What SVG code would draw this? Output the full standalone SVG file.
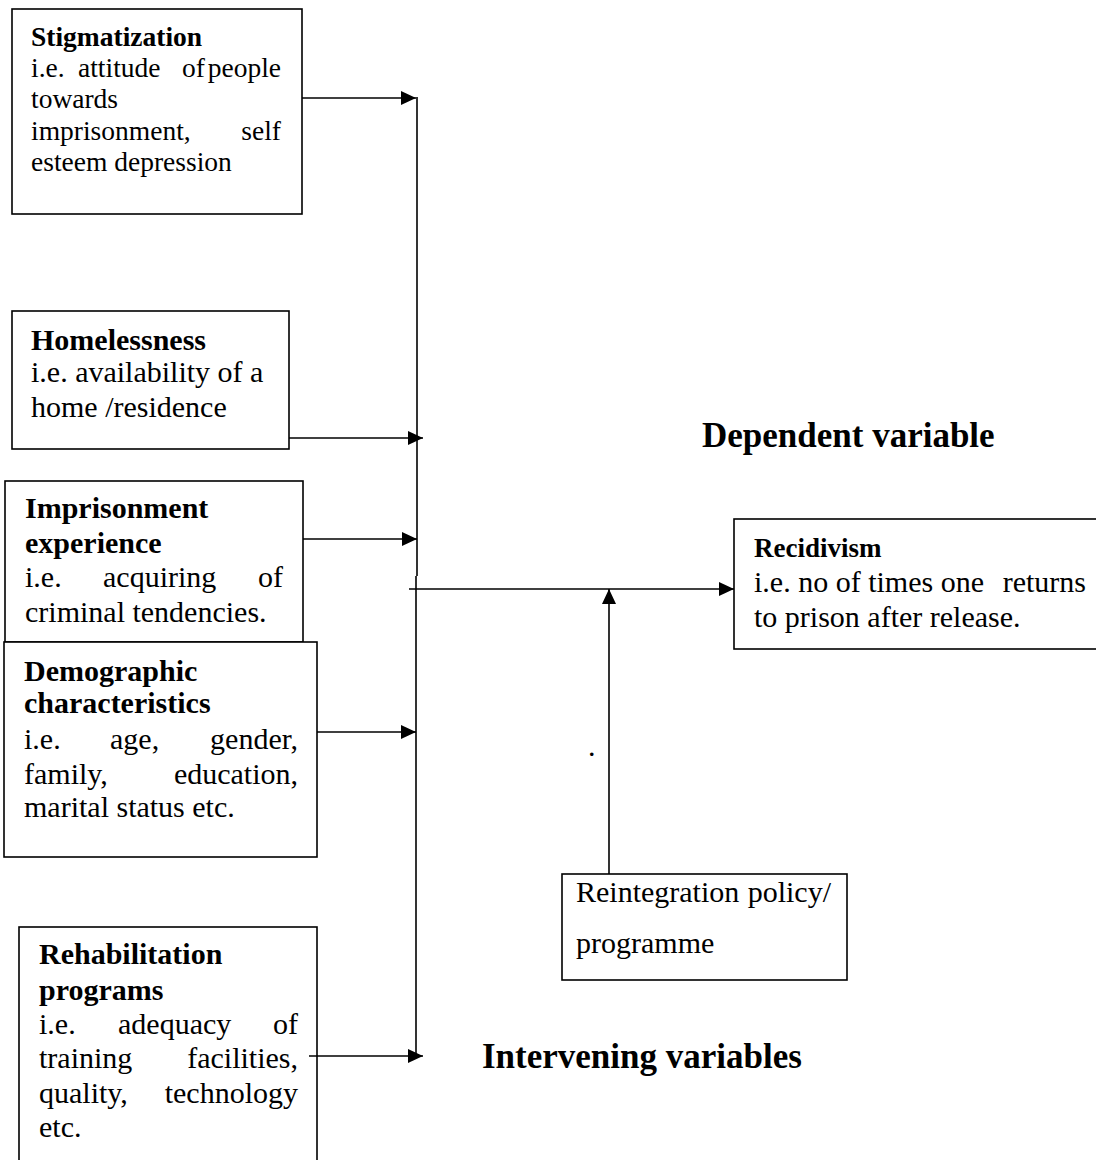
<svg xmlns="http://www.w3.org/2000/svg" width="1096" height="1160" viewBox="0 0 1096 1160">
<style>
.box{fill:#fff;stroke:#000;stroke-width:1.6}
.t{font-family:"Liberation Serif","Times New Roman",serif;font-size:30px;fill:#000}
.s{font-size:27.5px}
.h{font-size:27px}
.b{font-weight:bold}
.big{font-family:"Liberation Serif","Times New Roman",serif;font-size:35px;font-weight:bold;fill:#000}
.ln{stroke:#000;stroke-width:1.6;fill:none}
</style>
<defs>
<marker id="ah" markerUnits="userSpaceOnUse" markerWidth="16" markerHeight="14" refX="15" refY="7" orient="auto">
<path d="M0,0 L15,7 L0,14 z" fill="#000"/>
</marker>
</defs>
<rect width="1096" height="1160" fill="#fff"/>

<g id="stigmatization">
<rect class="box" x="12" y="9" width="290" height="205"/>
<text class="t s b" x="31" y="46">Stigmatization</text>
<text class="t s" y="77"><tspan x="31">i.e.</tspan><tspan x="78">attitude</tspan><tspan x="182">of</tspan><tspan x="281" text-anchor="end">people</tspan></text>
<text class="t s" x="31" y="108">towards</text>
<text class="t s" y="140"><tspan x="31">imprisonment,</tspan><tspan x="281" text-anchor="end">self</tspan></text>
<text class="t s" x="31" y="171">esteem depression</text>
</g>

<g id="homelessness">
<rect class="box" x="12" y="311" width="277" height="138"/>
<text class="t b" x="31" y="350">Homelessness</text>
<text class="t" x="31" y="382">i.e. availability of a</text>
<text class="t" x="31" y="417">home /residence</text>
</g>

<g id="imprisonment">
<rect class="box" x="5" y="481" width="298" height="161"/>
<text class="t b" x="25" y="518">Imprisonment</text>
<text class="t b" x="25" y="553">experience</text>
<text class="t" y="587"><tspan x="25">i.e.</tspan><tspan x="103">acquiring</tspan><tspan x="283" text-anchor="end">of</tspan></text>
<text class="t" x="25" y="622">criminal tendencies.</text>
</g>

<g id="demographic">
<rect class="box" x="4" y="642" width="313" height="215"/>
<text class="t b" x="24" y="681">Demographic</text>
<text class="t b" x="24" y="713">characteristics</text>
<text class="t" y="749"><tspan x="24">i.e.</tspan><tspan x="110">age,</tspan><tspan x="298" text-anchor="end">gender,</tspan></text>
<text class="t" y="784"><tspan x="24">family,</tspan><tspan x="298" text-anchor="end">education,</tspan></text>
<text class="t" x="24" y="817">marital status etc.</text>
</g>

<g id="rehabilitation">
<rect class="box" x="19" y="927" width="298" height="245"/>
<text class="t b" x="39" y="964">Rehabilitation</text>
<text class="t b" x="39" y="1000">programs</text>
<text class="t" y="1034"><tspan x="39">i.e.</tspan><tspan x="118">adequacy</tspan><tspan x="298" text-anchor="end">of</tspan></text>
<text class="t" y="1068"><tspan x="39">training</tspan><tspan x="298" text-anchor="end">facilities,</tspan></text>
<text class="t" y="1103"><tspan x="39">quality,</tspan><tspan x="298" text-anchor="end">technology</tspan></text>
<text class="t" x="39" y="1137">etc.</text>
</g>

<g id="recidivism">
<rect class="box" x="734" y="519" width="380" height="130"/>
<text class="t h b" x="754" y="557">Recidivism</text>
<text class="t" y="592"><tspan x="754">i.e. no of times one</tspan><tspan x="1086" text-anchor="end">returns</tspan></text>
<text class="t" x="754" y="627">to prison after release.</text>
</g>

<g id="reintegration">
<rect class="box" x="562" y="874" width="285" height="106"/>
<text class="t" y="902"><tspan x="576">Reintegration</tspan><tspan x="831" text-anchor="end">policy/</tspan></text>
<text class="t" x="576" y="953">programme</text>
</g>

<g id="labels">
<text class="big" x="702" y="447">Dependent variable</text>
<text class="big" x="482" y="1068">Intervening variables</text>
<text class="t" x="588" y="756">.</text>
</g>

<g id="connectors">
<line class="ln" x1="302" y1="98" x2="416" y2="98" marker-end="url(#ah)"/>
<line class="ln" x1="289" y1="438" x2="423" y2="438" marker-end="url(#ah)"/>
<line class="ln" x1="303" y1="539" x2="417" y2="539" marker-end="url(#ah)"/>
<line class="ln" x1="317" y1="732" x2="416" y2="732" marker-end="url(#ah)"/>
<line class="ln" x1="309" y1="1056" x2="423" y2="1056" marker-end="url(#ah)"/>
<line class="ln" x1="417" y1="97" x2="417" y2="576"/>
<line class="ln" x1="416" y1="576" x2="416" y2="1056"/>
<line class="ln" x1="409" y1="589" x2="734" y2="589" marker-end="url(#ah)"/>
<line class="ln" x1="609" y1="874" x2="609" y2="589" marker-end="url(#ah)"/>
</g>
</svg>
